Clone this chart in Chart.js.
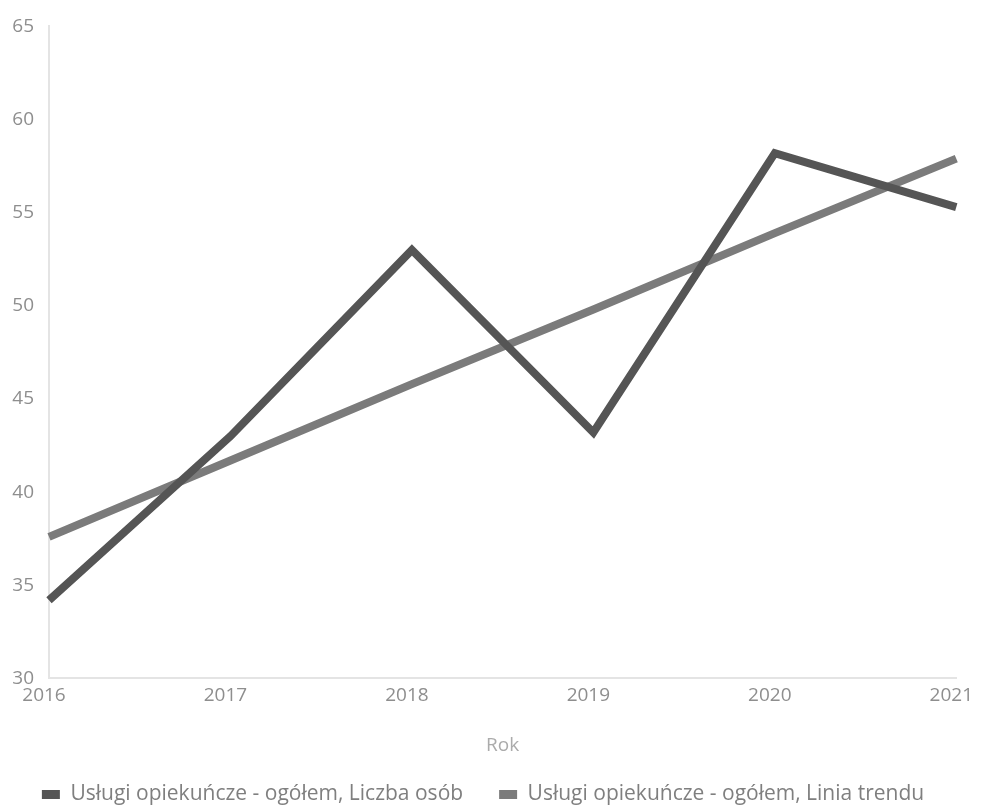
<!DOCTYPE html>
<html>
<head>
<meta charset="utf-8">
<script src="https://cdn.jsdelivr.net/npm/chart.js@4"></script>
<style>
  html, body { margin: 0; padding: 0; background: #fff; }
  #wrap { width: 984px; height: 806px; }
</style>
</head>
<body>
<div id="wrap"><canvas id="lineChart"></canvas></div>
<script>
const years = ["2016", "2017", "2018", "2019", "2020", "2021"];
const liczbaOsob = [34.2, 43.0, 53.0, 43.2, 58.2, 55.3];
const liniaTrendu = [37.6, 41.7, 45.8, 49.8, 53.9, 57.9];
const yTicks = [30, 35, 40, 45, 50, 55, 60, 65];

const ctx = document.getElementById("lineChart").getContext("2d");
const textGray = "#8e8e8e";
const fontFamily = "'Open Sans', sans-serif";

// legend only reserves a short strip at the bottom, then gets pulled up/left
const legendShift = {
  id: "legendShift",
  afterLayout(chart) {
    const lg = chart.legend;
    lg.top -= 12;
    lg.left -= 30;
  },
};

const lineChart = new Chart(ctx, {
  type: "line",
  data: {
    labels: years,
    datasets: [
      {
        label: "Usługi opiekuńcze - ogółem, Liczba osób",
        data: liczbaOsob,
        borderColor: "#555555",
        backgroundColor: "#555555",
        borderWidth: 8,
        pointRadius: 0,
        tension: 0,
      },
      {
        label: "Usługi opiekuńcze - ogółem, Linia trendu",
        data: liniaTrendu,
        borderColor: "#7b7b7b",
        backgroundColor: "#7b7b7b",
        borderWidth: 8,
        pointRadius: 0,
        tension: 0,
      },
    ],
  },
  options: {
    responsive: true,
    maintainAspectRatio: false,
    animation: false,
    layout: {
      padding: { top: 16, left: 12, right: 0, bottom: 0 },
    },
    scales: {
      x: {
        offset: false,
        grid: { display: false, drawTicks: false },
        border: { display: true, color: "#e4e4e4", width: 2 },
        ticks: {
          color: textGray,
          font: { family: fontFamily, size: 19 },
          padding: 6,
          labelOffset: -5,
          maxRotation: 0,
        },
        title: {
          display: true,
          text: "Rok",
          color: "#ababab",
          font: { family: fontFamily, size: 19 },
          padding: { top: 21, bottom: 3 },
        },
      },
      y: {
        min: 30,
        max: 65,
        afterBuildTicks: (axis) => {
          axis.ticks = yTicks.map((v) => ({ value: v }));
        },
        afterFit: (axis) => {
          axis.width = 37;
        },
        grid: { display: false, drawTicks: false },
        border: { display: true, color: "#e4e4e4", width: 2 },
        ticks: {
          color: textGray,
          font: { family: fontFamily, size: 19 },
          padding: 15,
        },
      },
    },
    plugins: {
      legend: {
        position: "bottom",
        maxHeight: 46,
        labels: {
          color: "#7f7f7f",
          font: { family: fontFamily, size: 21 },
          boxWidth: 18,
          boxHeight: 9,
          padding: 36,
          generateLabels: (chart) =>
            Chart.defaults.plugins.legend.labels
              .generateLabels(chart)
              .map((item) => ({ ...item, lineWidth: 0 })),
        },
      },
      tooltip: { enabled: false },
    },
  },
  plugins: [legendShift],
});
</script>
</body>
</html>
